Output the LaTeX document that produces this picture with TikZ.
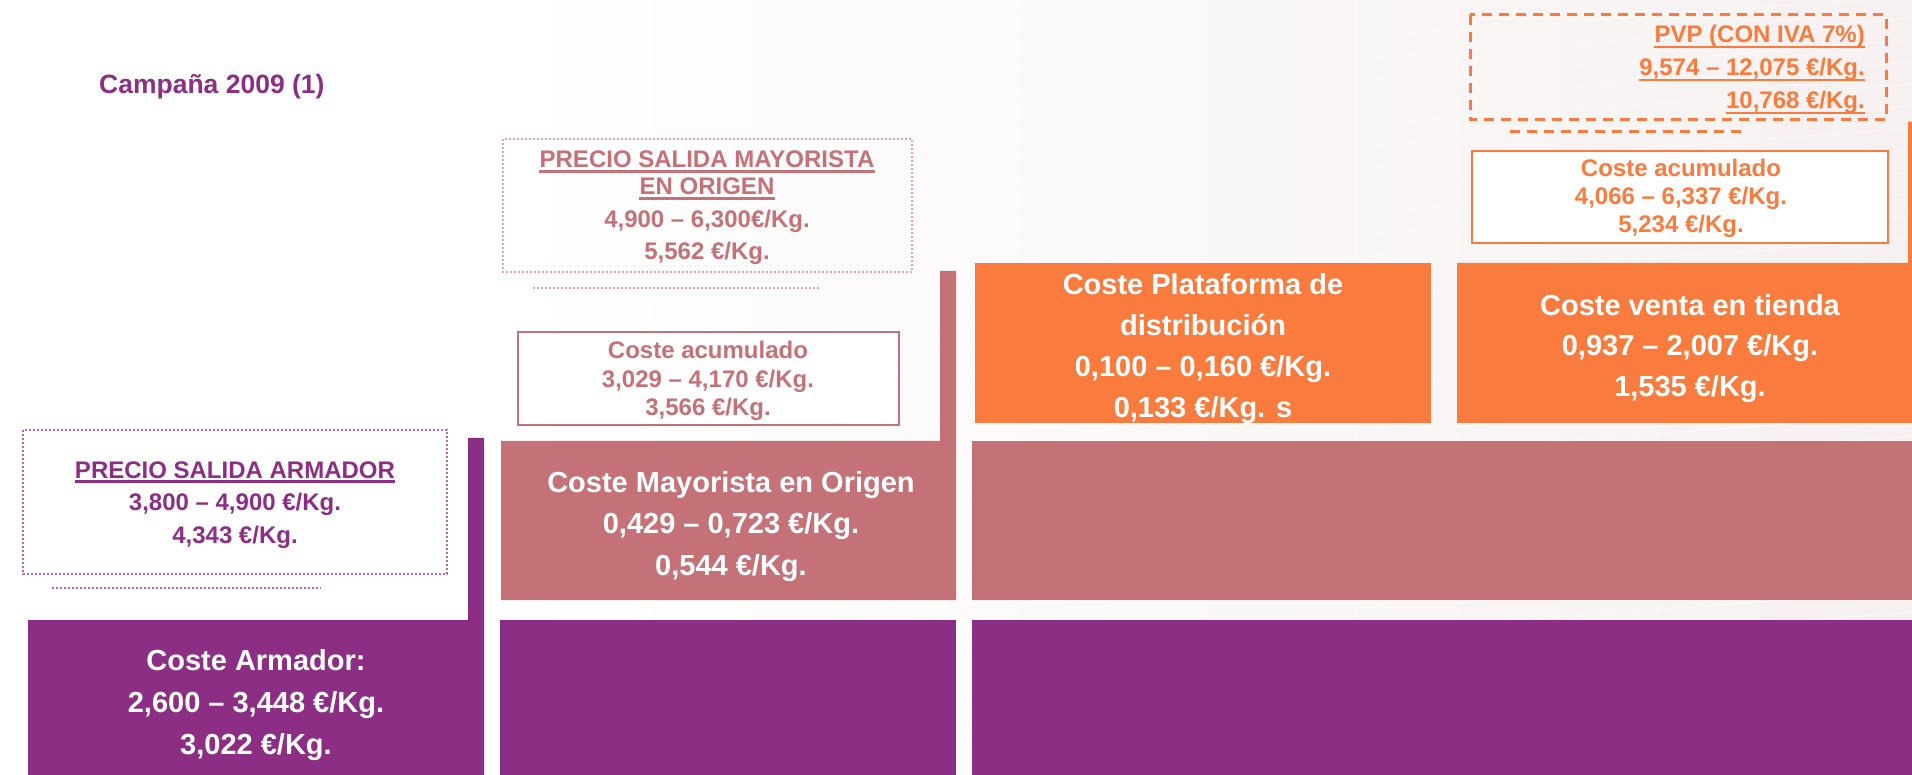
\documentclass[tikz,border=0pt]{standalone}
\usepackage{fontspec}
\setmainfont{Liberation Sans}
\definecolor{cpur}{HTML}{8C2F84}
\definecolor{crose}{HTML}{C47277}
\definecolor{corg}{HTML}{F97B3D}
\definecolor{cpurl}{HTML}{B867B0}
\definecolor{crosel}{HTML}{E2A3AB}
\definecolor{cbg}{HTML}{F6F1F0}
\newcommand\fbig{\fontsize{29}{35}\selectfont\bfseries}
\newcommand\fmid{\fontsize{24}{29}\selectfont\bfseries}
\newcommand\ftitle{\fontsize{26.5}{32}\selectfont\bfseries}
\begin{document}
\begin{tikzpicture}[x=1pt,y=-1pt,
  txt/.style={inner sep=0pt, anchor=base},
  big/.style={txt, font=\fbig, text=white},
  mid/.style={txt, font=\fmid},
  ulp/.style={draw=cpur, line width=2.4pt},
  ulr/.style={draw=crose, line width=2.4pt},
  ulo/.style={draw=corg, line width=2.4pt},
  dotbox/.style={line width=1.3pt, dash pattern=on 2pt off 2pt},
  acbox/.style={line width=2pt, fill=white},
]
\useasboundingbox (0,0) rectangle (1912,775);
\fill[white] (0,0) rectangle (1912,775);
\shade[left color=white, right color=cbg, shading angle=90] (500,0) rectangle (1912,775);
\foreach \k in {0,...,38} {
  \draw[white!55!cbg, line width=1.5pt, opacity=0.8] (900,{\k*22}) .. controls (1300,{\k*22-25}) and (1600,{\k*22-45}) .. (1912,{\k*22-70});
}

% title
\node[txt, anchor=base west, font=\ftitle, text=cpur] (title) at (99,94) {Campaña 2009 (1)};

% ---------- purple level ----------
\fill[cpur] (468,438) -- (484,438) -- (484,775) -- (28,775) -- (28,620) -- (468,620) -- cycle;
\fill[cpur] (500,620) rectangle (956,775);
\fill[cpur] (972,620) rectangle (1912,775);
\draw[dotbox, draw=cpurl] (23,430) rectangle (447,574);
\draw[dotbox, draw=cpurl] (52,588) -- (321,588);

\node[mid, text=cpur] (pa1) at (235,478) {PRECIO SALIDA ARMADOR};
\node[mid, text=cpur] (pa2) at (235,510) {3,800 – 4,900 €/Kg.};
\node[mid, text=cpur] (pa3) at (235,543) {4,343 €/Kg.};
\draw[ulp] ([yshift=-3.5pt]pa1.base west) -- ([yshift=-3.5pt]pa1.base east);

\node[big] (ca1) at (256,670) {Coste Armador:};
\node[big] (ca2) at (256,712) {2,600 – 3,448 €/Kg.};
\node[big] (ca3) at (256,754) {3,022 €/Kg.};

% ---------- rose level ----------
\fill[crose] (940,271) -- (956,271) -- (956,600) -- (501,600) -- (501,441) -- (940,441) -- cycle;
\fill[crose] (972,441) rectangle (1912,600);
\draw[dotbox, draw=crosel] (503,139) rectangle (912,272);
\draw[dotbox, draw=crosel] (533,288) -- (821,288);
\draw[acbox, draw=crose] (518,332) rectangle (899,425);

\node[mid, text=crose] (pm1) at (707,168) {PRECIO SALIDA MAYORISTA};
\node[mid, text=crose] (pm2) at (707,195) {EN ORIGEN};
\node[mid, text=crose] (pm3) at (707,228) {4,900 – 6,300€/Kg.};
\node[mid, text=crose] (pm4) at (707,260) {5,562 €/Kg.};
\draw[ulr] ([yshift=-3.5pt]pm1.base west) -- ([yshift=-3.5pt]pm1.base east);
\draw[ulr] ([yshift=-3.5pt]pm2.base west) -- ([yshift=-3.5pt]pm2.base east);

\node[mid, text=crose] (ar1) at (708,359) {Coste acumulado};
\node[mid, text=crose] (ar2) at (708,388) {3,029 – 4,170 €/Kg.};
\node[mid, text=crose] (ar3) at (708,416) {3,566 €/Kg.};

\node[big] (cm1) at (731,492) {Coste Mayorista en Origen};
\node[big] (cm2) at (731,533) {0,429 – 0,723 €/Kg.};
\node[big] (cm3) at (731,575) {0,544 €/Kg.};

% ---------- orange level ----------
\fill[corg] (975,263) rectangle (1431,423);
\fill[corg] (1908,122) -- (1912,122) -- (1912,423) -- (1457,423) -- (1457,263) -- (1908,263) -- cycle;

\node[big] (pl1) at (1203,295) {Coste Plataforma de};
\node[big] (pl2) at (1203,336) {distribución};
\node[big] (pl3) at (1203,377) {0,100 – 0,160 €/Kg.};
\node[big] (pl4) at (1203,418) {0,133 €/Kg. s};

\node[big] (vt1) at (1690,316) {Coste venta en tienda};
\node[big] (vt2) at (1690,356) {0,937 – 2,007 €/Kg.};
\node[big] (vt3) at (1690,397) {1,535 €/Kg.};

\draw[acbox, draw=corg] (1472,151) rectangle (1888,243);
\node[mid, text=corg] (ao1) at (1681,177) {Coste acumulado};
\node[mid, text=corg] (ao2) at (1681,205) {4,066 – 6,337 €/Kg.};
\node[mid, text=corg] (ao3) at (1681,233) {5,234 €/Kg.};

\draw[corg, line width=3pt, dash pattern=on 10pt off 7pt] (1470,15) rectangle (1886,120);
\draw[corg, line width=3pt, dash pattern=on 10pt off 7pt] (1510,132) -- (1744,132);
\node[mid, text=corg, anchor=base east] (pv1) at (1865,43) {PVP (CON IVA 7\%)};
\node[mid, text=corg, anchor=base east] (pv2) at (1865,76) {9,574 – 12,075 €/Kg.};
\node[mid, text=corg, anchor=base east] (pv3) at (1865,109) {10,768 €/Kg.};
\draw[ulo] ([yshift=-4pt]pv1.base west) -- ([yshift=-4pt]pv1.base east);
\draw[ulo] ([yshift=-4pt]pv2.base west) -- ([yshift=-4pt]pv2.base east);
\draw[ulo] ([yshift=-4pt]pv3.base west) -- ([yshift=-4pt]pv3.base east);
\end{tikzpicture}
\end{document}
